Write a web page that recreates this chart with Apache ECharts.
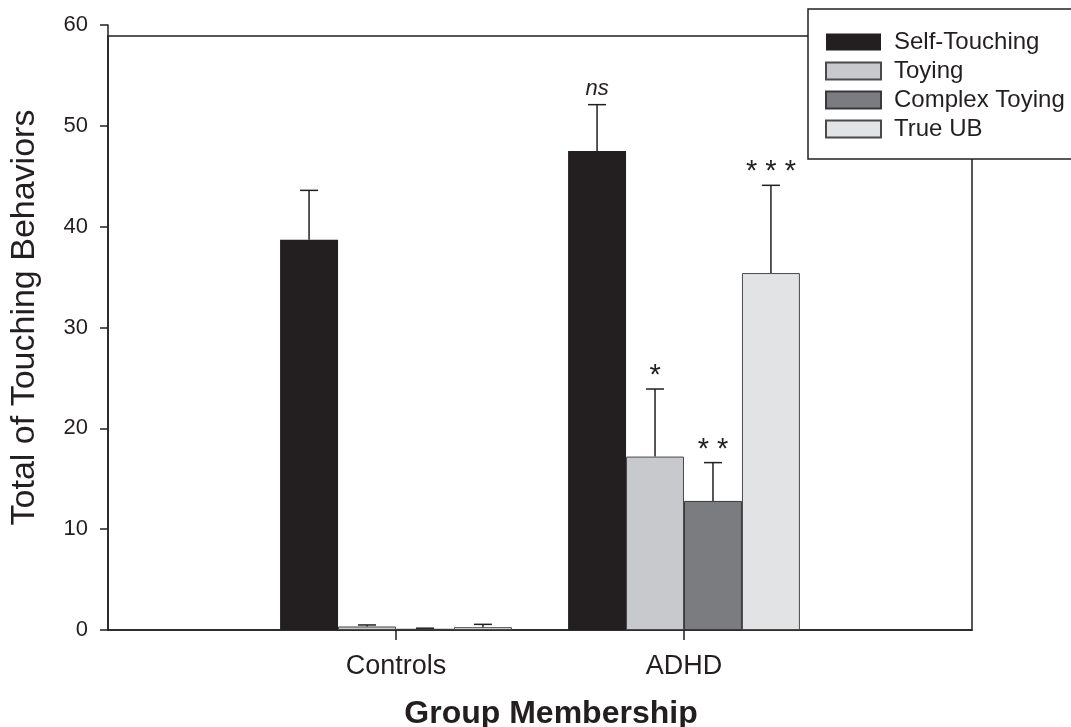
<!DOCTYPE html>
<html>
<head>
<meta charset="utf-8">
<script src="https://cdn.jsdelivr.net/npm/echarts@6/dist/echarts.min.js"></script>
<style>html,body{margin:0;padding:0;background:#fff;}#chart{width:1071px;height:727px;}</style>
</head>
<body>
<div id="chart"></div>
<script>
// ---- data ----
const categories = ['Controls', 'ADHD'];
const seriesNames = ['Self-Touching', 'Toying', 'Complex Toying', 'True UB'];
const selfTouching = [38.7, 47.5];
const selfTouchingErr = [4.9, 4.6];
const toying = [0.35, 17.2];
const toyingErr = [0.15, 6.7];
const complexToying = [0.12, 12.8];
const complexToyingErr = [0.06, 3.8];
const trueUB = [0.28, 35.4];
const trueUBErr = [0.28, 8.7];
const controlsMarks = ['', '', '', ''];
const adhdMarks = ['ns', '*', '**', '***'];
const yMin = 0, yMax = 60, yInterval = 10;
const frameTop = 59;

// ---- styling ----
const FONT = '"Liberation Sans", Arial, Helvetica, sans-serif';
const TXT = '#231f20';
const colors = ['#231f20', '#c8c9cc', '#7b7c80', '#e2e3e5'];
const borders = ['#231f20', '#4a4a4a', '#3a3a3a', '#4a4a4a'];
const GAP = 0.195;

const values = [selfTouching, toying, complexToying, trueUB];
const errs = [selfTouchingErr, toyingErr, complexToyingErr, trueUBErr];
const marks = [controlsMarks, adhdMarks];

// padded category axis (edges used only for the frame width)
const axisData = [''].concat(categories).concat(['']);

const barSeries = seriesNames.map((name, k) => ({
  name: name,
  type: 'bar',
  barGap: '0%',
  barCategoryGap: (GAP * 100) + '%',
  itemStyle: { color: colors[k], borderColor: borders[k], borderWidth: k === 0 ? 0 : 1 },
  data: [null].concat(values[k]).concat([null]),
  z: 2
}));

const errData = [];
seriesNames.forEach((name, k) => {
  categories.forEach((c, i) => {
    errData.push([i + 1, values[k][i], errs[k][i], k, marks[i][k]]);
  });
});

const errSeries = {
  type: 'custom',
  name: 'err',
  z: 3,
  renderItem: function (params, api) {
    const ci = api.value(0);
    const v = api.value(1);
    const e = api.value(2);
    const k = api.value(3);
    const label = errData[params.dataIndex][4];
    const band = api.size([1, 0])[0];
    const bw = band * (1 - GAP) / 4;
    const base = api.coord([ci, v]);
    const top = api.coord([ci, v + e]);
    const x = base[0] + (k - 1.5) * bw;
    const cap = 9;
    const children = [
      { type: 'line', shape: { x1: x, y1: base[1], x2: x, y2: top[1] }, style: { stroke: TXT, lineWidth: 1.5 } },
      { type: 'line', shape: { x1: x - cap, y1: top[1], x2: x + cap, y2: top[1] }, style: { stroke: TXT, lineWidth: 1.5 } }
    ];
    if (label) {
      const isNs = label === 'ns';
      children.push({
        type: 'text',
        style: {
          text: isNs ? label : label.split('').join(' '),
          x: x,
          y: top[1] - (isNs ? 16 : 13),
          align: 'center',
          verticalAlign: 'middle',
          fill: TXT,
          font: (isNs ? 'italic 22px ' : '29px ') + FONT
        }
      });
    }
    return { type: 'group', children: children };
  },
  data: errData,
  tooltip: { show: false }
};

const chart = echarts.init(document.getElementById('chart'), null, { renderer: 'canvas' });
chart.setOption({
  animation: false,
  backgroundColor: '#fff',
  textStyle: { fontFamily: FONT },
  grid: [
    { left: 108, right: 99, top: 25, bottom: 97, containLabel: false, outerBoundsMode: 'none' },
    { left: 108, right: 99, top: 36, bottom: 97, containLabel: false, outerBoundsMode: 'none', show: true, borderColor: TXT, borderWidth: 1.5, backgroundColor: 'transparent' }
  ],
  legend: {
    data: seriesNames,
    orient: 'vertical',
    left: 808,
    top: 9,
    padding: [21, 30, 18, 17],
    backgroundColor: '#fff',
    borderColor: TXT,
    borderWidth: 1.5,
    itemWidth: 55,
    itemHeight: 17,
    itemGap: 5,
    icon: 'rect',
    textStyle: { fontSize: 24, color: TXT, fontFamily: FONT, lineHeight: 24, padding: [0, 0, 0, 8] },
    selectedMode: false,
    z: 10
  },
  xAxis: [
    {
      type: 'category',
      data: axisData,
      boundaryGap: false,
      gridIndex: 0,
      axisLine: { show: true, lineStyle: { color: TXT, width: 1.5 } },
      axisTick: { show: true, length: 10, interval: (i) => i === 1 || i === 2, lineStyle: { color: TXT, width: 1.5 } },
      axisLabel: { interval: (i) => i === 1 || i === 2, fontSize: 27, color: TXT, margin: 23, fontFamily: FONT },
      splitLine: { show: false },
      name: 'Group Membership',
      nameLocation: 'middle',
      nameGap: 68,
      nameTextStyle: { fontSize: 32, fontWeight: 'bold', color: TXT, fontFamily: FONT, padding: [0, 0, 0, 22] }
    },
    { type: 'category', data: axisData, boundaryGap: false, gridIndex: 1, show: false }
  ],
  yAxis: [
    {
      type: 'value',
      min: yMin,
      max: yMax,
      interval: yInterval,
      gridIndex: 0,
      axisLine: { show: true, lineStyle: { color: TXT, width: 1.5 } },
      axisTick: { show: true, length: 8, lineStyle: { color: TXT, width: 1.5 } },
      axisLabel: { fontSize: 22, color: TXT, margin: 20, fontFamily: FONT },
      splitLine: { show: false },
      name: 'Total of Touching Behaviors',
      nameLocation: 'middle',
      nameGap: 66,
      nameTextStyle: { fontSize: 34, color: TXT, fontFamily: FONT, padding: [0, 0, 0, 20] }
    },
    { type: 'value', min: yMin, max: frameTop, gridIndex: 1, show: false }
  ],
  series: barSeries.concat([errSeries])
});
</script>
</body>
</html>
